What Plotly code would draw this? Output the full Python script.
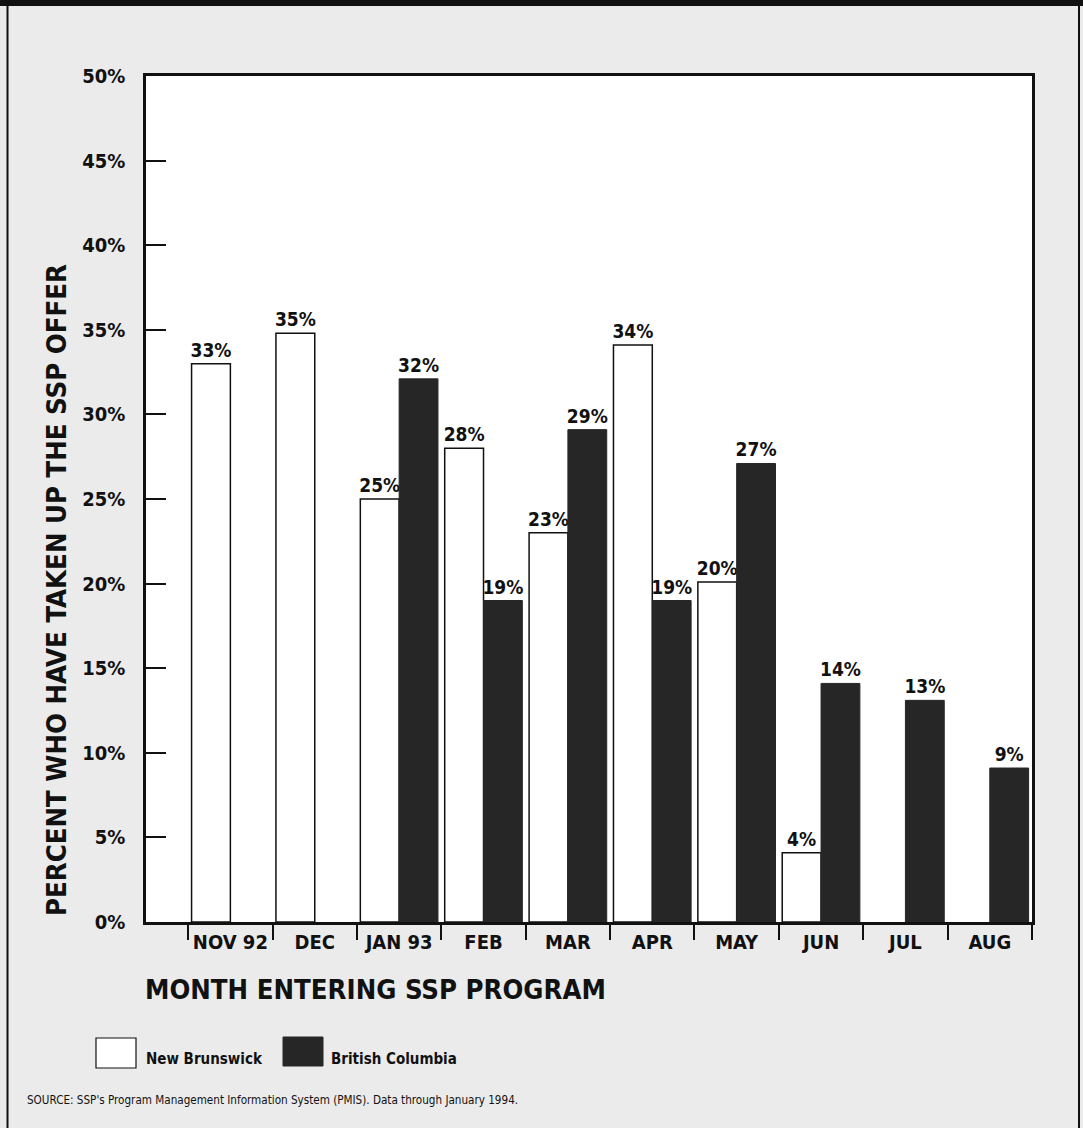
import plotly.graph_objects as go

months = ["NOV 92", "DEC", "JAN 93", "FEB", "MAR", "APR", "MAY", "JUN", "JUL", "AUG"]
new_brunswick = [33.0, 34.8, 25.0, 28.0, 23.0, 34.1, 20.1, 4.1, None, None]
british_columbia = [None, None, 32.1, 19.0, 29.1, 19.0, 27.1, 14.1, 13.1, 9.1]
y_ticks = [0, 5, 10, 15, 20, 25, 30, 35, 40, 45, 50]
y_tick_labels = [f"{v}%" for v in y_ticks]

FONT = "'Liberation Sans Narrow', 'Arial Narrow', 'DejaVu Sans Condensed', sans-serif"
INK = "#111111"
DARK = "#262626"
PAPER = "#ebebeb"

W, H = 1083, 1128
L, R, T, B = 146, 51, 76, 206
PW, PH = W - L - R, H - T - B


def px(x):
    return (x - L) / PW


def py(y):
    return (H - B - y) / PH


def lab(vals):
    return ["" if v is None else f"{v:.0f}%" for v in vals]


fig = go.Figure()
fig.add_trace(go.Bar(
    name="New Brunswick", x=months, y=new_brunswick,
    marker=dict(color="white", line=dict(color=INK, width=1.5)),
    text=lab(new_brunswick), textposition="outside", cliponaxis=False,
    constraintext="none",
    textfont=dict(family=FONT, size=19, color=INK, weight="bold"),
))
fig.add_trace(go.Bar(
    name="British Columbia", x=months, y=british_columbia,
    marker=dict(color=DARK, line=dict(color=DARK, width=1)),
    text=lab(british_columbia), textposition="outside", cliponaxis=False,
    constraintext="none",
    textfont=dict(family=FONT, size=19, color=INK, weight="bold"),
))

fig.update_layout(
    width=W, height=H,
    margin=dict(l=L, r=R, t=T, b=B, autoexpand=False),
    paper_bgcolor=PAPER, plot_bgcolor="white",
    barmode="group", bargap=0.08, bargroupgap=0,
    showlegend=False,
    font=dict(family=FONT, color=INK),
)
fig.update_xaxes(
    type="category", categoryorder="array", categoryarray=months,
    range=[-1, 9.5], tickson="boundaries", tickangle=0,
    ticks="outside", ticklen=15, tickwidth=2, tickcolor=INK,
    showline=True, linewidth=2.5, linecolor=INK, mirror=True,
    showgrid=False, zeroline=False,
    tickfont=dict(family=FONT, size=20, color=INK, weight="bold"),
)
fig.update_yaxes(
    range=[0, 50], tickmode="array", tickvals=y_ticks, ticktext=y_tick_labels,
    ticks="inside", ticklen=20, tickwidth=2, tickcolor=INK,
    showline=True, linewidth=2.5, linecolor=INK, mirror=True,
    showgrid=False, zeroline=False, ticklabelstandoff=14,
    tickfont=dict(family=FONT, size=20, color=INK, weight="bold"),
)

shapes = [
    dict(type="rect", xref="paper", yref="paper", x0=px(0), x1=px(W), y0=py(6), y1=py(0),
         fillcolor=INK, line=dict(width=0), layer="above"),
    dict(type="line", xref="paper", yref="paper", x0=px(7.5), x1=px(7.5), y0=py(H), y1=py(0),
         line=dict(color=INK, width=2)),
    dict(type="line", xref="paper", yref="paper", x0=px(1079), x1=px(1079), y0=py(H), y1=py(0),
         line=dict(color=INK, width=2)),
    dict(type="rect", xref="paper", yref="paper", x0=px(96), x1=px(136), y0=py(1068), y1=py(1038),
         fillcolor="white", line=dict(color=INK, width=1.2)),
    dict(type="rect", xref="paper", yref="paper", x0=px(283), x1=px(323), y0=py(1066), y1=py(1037),
         fillcolor=DARK, line=dict(color=DARK, width=1)),
]
fig.update_layout(shapes=shapes)

ann = [
    dict(text="PERCENT WHO HAVE TAKEN UP THE SSP OFFER", x=px(56), y=py(590),
         xanchor="center", yanchor="middle", textangle=-90,
         font=dict(family=FONT, size=27.3, color=INK, weight="bold")),
    dict(text="MONTH ENTERING SSP PROGRAM", x=px(143), y=py(989),
         xanchor="left", yanchor="middle",
         font=dict(family=FONT, size=27.3, color=INK, weight="bold")),
    dict(text="New Brunswick", x=px(144), y=py(1059),
         xanchor="left", yanchor="middle",
         font=dict(family=FONT, size=15, color=INK, weight="bold")),
    dict(text="British Columbia", x=px(329), y=py(1059),
         xanchor="left", yanchor="middle",
         font=dict(family=FONT, size=15, color=INK, weight="bold")),
    dict(text="SOURCE: SSP's Program Management Information System (PMIS). Data through January 1994.",
         x=px(25), y=py(1100), xanchor="left", yanchor="middle",
         font=dict(family=FONT, size=11.6, color=INK)),
]
for a in ann:
    a.update(xref="paper", yref="paper", showarrow=False)
fig.update_layout(annotations=ann)

fig.write_html("out.html")
